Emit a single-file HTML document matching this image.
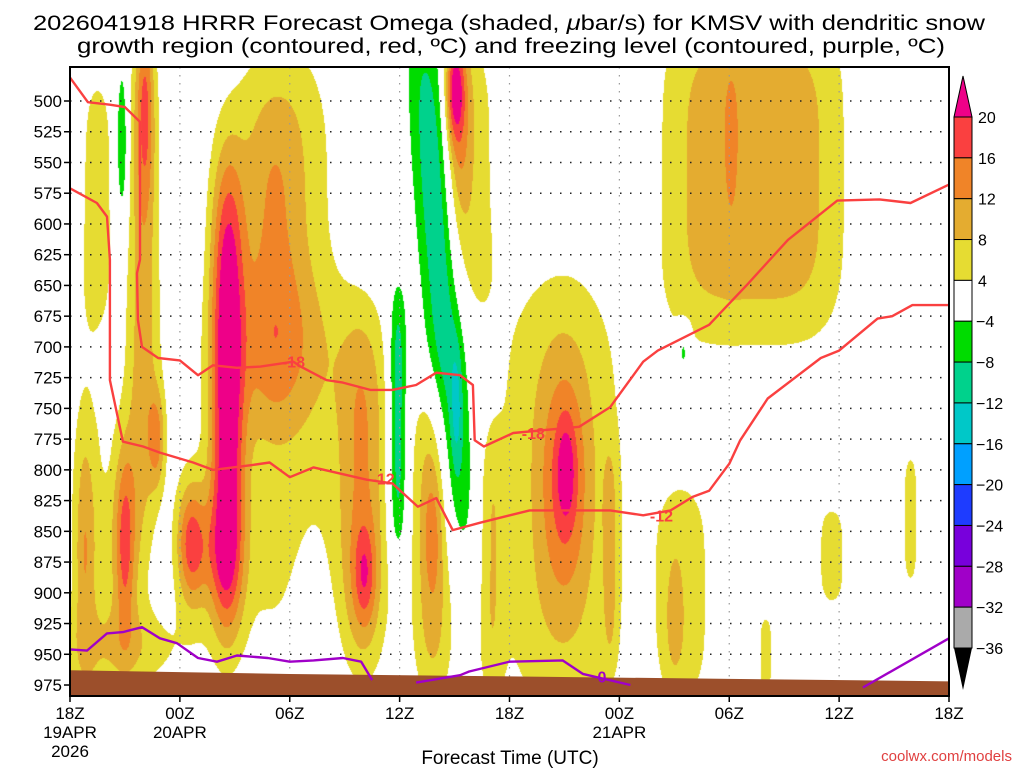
<!DOCTYPE html>
<html><head><meta charset="utf-8"><style>
html,body{margin:0;padding:0;background:#fff;width:1024px;height:768px;overflow:hidden}
#shade{position:absolute;left:70px;top:67px}
#ov{position:absolute;left:0;top:0}
text{font-family:"Liberation Sans",sans-serif}
</style></head><body>
<canvas id="shade" width="879" height="629"></canvas>
<svg id="ov" width="1024" height="768" xmlns="http://www.w3.org/2000/svg">
<g id="title" font-size="21" fill="#000" text-anchor="middle">
<text x="509" y="30" textLength="952" lengthAdjust="spacingAndGlyphs">2026041918 HRRR Forecast Omega (shaded, <tspan font-style="italic">μ</tspan>bar/s) for KMSV with dendritic snow</text>
<text x="511" y="53" textLength="868" lengthAdjust="spacingAndGlyphs">growth region (contoured, red, ºC) and freezing level (contoured, purple, ºC)</text>
</g>
<g id="grid"></g>
<g id="lines"></g>
<g id="axes"></g>
<g id="cbar"></g>
<text x="510" y="764" font-size="19" text-anchor="middle">Forecast Time (UTC)</text>
<text x="1012" y="761" font-size="15" fill="#e04040" text-anchor="end">coolwx.com/models</text>
</svg>
<script>
// ---- data ----
const pressureTicks=[500,525,550,575,600,625,650,675,700,725,750,775,800,825,850,875,900,925,950,975];
const timeTickHours=[0,6,12,18,24,30,36,42,48];
const timeTickLabels=["18Z","00Z","06Z","12Z","18Z","00Z","06Z","12Z","18Z"];
const dateLabels=[[0,"19APR","2026"],[6,"20APR"],[30,"21APR"]];
const levelBounds=[20,16,12,8,4,-4,-8,-12,-16,-20,-24,-28,-32,-36];
const levelColors=["#ee0088","#fa4040","#f08428","#e4ac30","#e6dc32","#ffffff","#00dc00","#00d28c","#00c8c8","#00a0ff","#1e3cff","#7800dc","#a000c8","#aaaaaa","#000000"];
// omega features (hour, hPa, hour-width, hPa-width, exponents, amplitude, tilt)
const blobH=[8.6,11.5,12.0,6.6,4.1,4.0,4.75,3.0,3.0,0.8,0.9,1.5,3,2.85,1.95,13.2,16.1,16.0,19.8,19.8,20.3,21.1,17.9,21.0,21.2,22.0,27.1,27.0,26.8,29.5,33.5,33.0,33.5,37.3,36.1,41.6,45.9,38.0,23.0,8.0,11.0];
const blobP=[740,600,800,860,500,640,775,860,860,870,850,580,945,535,765,940,885,820,850,860,650,750,760,490,520,560,800,810,820,870,900,920,698,560,520,870,840,950,880,870,640];
const blobSh=[0.9,2.8,4.5,0.8,0.45,0.9,0.45,0.5,1.2,0.5,1.0,1.0,3.5,0.35,0.2,1.2,0.6,1.3,0.5,1.1,1.1,0.3,0.5,0.5,0.7,1.4,0.5,1.3,3.6,0.4,1.8,0.5,0.35,5,0.45,0.9,0.5,0.45,0.7,1.2,1.5];
const blobSp=[190,150,150,50,80,200,40,70,100,90,150,110,35,70,25,90,40,150,50,130,220,50,110,40,90,120,40,90,190,90,100,50,20,140,80,45,60,35,110,50,130];
const blobHx=[2,2,2,2,2,2,2,2,2,2,2,2,2,2,2,2,2,2,2,2,2,2,2,2,2,2,2,2,2,2,2,2,2,4,2,2,2,2,2,2,2];
const blobPx=[4,4,4,2,2,4,2,2,2,2,2,4,2,2,2,2,2,4,2,4,4,2,4,2,2,4,2,2,4,4,4,2,4,4,2,4,4,4,4,2,4];
const blobAmp=[22,9,6,16,10,10,10,10,8,6,6,6,6,-10,-6,-5,9,10,5,10,-12,-6,-12,14,10,6,7,10,8,6,6,5,-7,10.5,3,6,6,6,6,6,4];
const blobTilt=[0,0,0,0,0,0,0,0,0,0,0,0,0,0,0,0,0,0,0,0,0.005,0,0,0,0,0,0,0,0,0,0,0,0,0,0,0,0,0,0,0,0];
// contours
const c18H=[0,0.98,2.18,3.0,3.82,3.82,3.66,3.71,3.93,4.81,6.0,6.99,7.81,9.12,10.4,12.2,12.6,14.0,14.9,16.4,17.6,18.9,20.0,21.3,22.0,22.1,22.6,24.2,27.8,29.5,31.3,32.1,34.9,37.0,39.2,41.9,44.2,45.9,48];
const c18P=[481,501,503,505,517,629,640,678,700,709,711,723,715,717,716,712,716,727,729,735,735,731,721,723,731,776,781,770,765,749,712,703,682,649,613,581,580,583,568];
const c12H=[0,1.47,2.02,2.18,2.18,2.89,3.99,4.91,6.72,7.81,9.99,10.9,12.0,13.3,16.2,17.6,19.0,20.0,20.9,22.4,25.1,29.5,31.3,32.8,34.0,34.9,36.0,36.6,38.1,41.0,42.0,44.1,44.9,46.0,48];
const c12P=[571,583,594,629,727,777,781,786,794,800,796,794,806,798,808,811,830,823,849,843,833,833,837,833,822,817,795,776,742,709,703,677,675,666,666];
const f0aH=[0,0.93,2.02,2.89,3.93,4.91,5.84,6.99,8.03,9.12,10.8,12.0,13.3,14.9,15.9,16.5];
const f0aP=[946,947,933,932,928,937,941,953,956,951,953,956,955,953,956,971];
const f0bH=[18.9,21.3,21.8,24.0,26.9,28.0,30.6];
const f0bP=[973,967,964,956,955,966,975];
const f0cH=[43.3,48];
const f0cP=[977,937];
const labelH=[12.2,25.3,17.1,32.3,29.05];
const labelP=[712,770,807,837,968];
const labelText=["-18","-18","-12","-12","0"];
const groundH=[0,12,24,36,48];
const groundP=[963,966,968,970,972];

// ---- scales ----
const X0=70,X1=949,Y0=67,Y1=696;
function X(h){return X0+h*(X1-X0)/48;}
function Y(p){return 101+(p-500)*1.2295;}
function P(y){return 500+(y-101)/1.2295;}
function H(x){return (x-X0)*48/(X1-X0);}
const NS="http://www.w3.org/2000/svg";
function el(tag,attrs,parent){const e=document.createElementNS(NS,tag);for(const k in attrs)e.setAttribute(k,attrs[k]);parent.appendChild(e);return e;}

// ---- shading ----
const cv=document.getElementById('shade'),ctx=cv.getContext('2d');
const W=cv.width,Hh=cv.height,img=ctx.createImageData(W,Hh);
const rgb=levelColors.map(c=>[parseInt(c.substr(1,2),16),parseInt(c.substr(3,2),16),parseInt(c.substr(5,2),16)]);
for(let j=0;j<Hh;j++){const p=P(Y0+j+0.5);
 for(let i=0;i<W;i++){const h=H(X0+i+0.5);let v=0;
  for(let b=0;b<blobH.length;b++){
   const dp=Math.abs(p-blobP[b])/blobSp[b]; if(dp>3)continue;
   const dh=Math.abs(h-blobH[b]-blobTilt[b]*(p-blobP[b]))/blobSh[b]; if(dh>4)continue;
   v+=blobAmp[b]*Math.exp(-Math.pow(dh,blobHx[b])-Math.pow(dp,blobPx[b]));}
  let k=levelBounds.length;for(let q=0;q<levelBounds.length;q++){if(v>=levelBounds[q]){k=q;break;}}
  const c=rgb[k],o=(j*W+i)*4;img.data[o]=c[0];img.data[o+1]=c[1];img.data[o+2]=c[2];img.data[o+3]=255;}}
ctx.putImageData(img,0,0);

const ov=document.getElementById('ov');
// ground
const gl=document.getElementById('lines');
let gd='M'+X(groundH[0])+','+Y(groundP[0]);
for(let i=1;i<groundH.length;i++)gd+=' L'+X(groundH[i])+','+Y(groundP[i]);
gd+=' L'+X1+','+Y1+' L'+X0+','+Y1+' Z';
const g=el('path',{d:gd,fill:'#9c4f2b'},gl);



// grid
const grid=document.getElementById('grid');
pressureTicks.forEach(p=>{const l=el('line',{x1:X0,x2:X1,y1:Y(p),y2:Y(p),stroke:'#222','stroke-width':1.5,'stroke-dasharray':'1.5,8.5'},grid);
 
 });
timeTickHours.slice(1,-1).forEach(h=>{const l=el('line',{x1:X(h),x2:X(h),y1:Y0,y2:Y1,stroke:'#999','stroke-width':1.2,'stroke-dasharray':'1.5,6.5'},grid);
 
 });

// contours
function poly(hs,ps,color,name){let d='';for(let i=0;i<hs.length;i++)d+=(i?' L':'M')+X(hs[i]).toFixed(1)+','+Y(ps[i]).toFixed(1);
 const e=el('path',{d:d,fill:'none',stroke:color,'stroke-width':2.4,'stroke-linejoin':'round'},gl);
 
 }
poly(c18H,c18P,'#fa4040','contour-minus18');
poly(c12H,c12P,'#fa4040','contour-minus12');
poly(f0aH,f0aP,'#a000c8','freezing-level');
poly(f0bH,f0bP,'#a000c8','freezing-level');
poly(f0cH,f0cP,'#a000c8','freezing-level');
labelText.forEach((t,i)=>{const e=el('text',{x:X(labelH[i]),y:Y(labelP[i])+6,'font-size':16,'font-weight':'bold','text-anchor':'middle',fill:t==='0'?'#a000c8':'#fa4040'},gl);e.textContent=t;
 
 });

// axes
const ax=document.getElementById('axes');
el('rect',{x:X0,y:Y0,width:X1-X0,height:Y1-Y0,fill:'none',stroke:'#000','stroke-width':2},ax);
pressureTicks.forEach(p=>{el('line',{x1:X0-6,x2:X0,y1:Y(p),y2:Y(p),stroke:'#000','stroke-width':1.5},ax);
 const t=el('text',{x:X0-8,y:Y(p)+6,'font-size':17,'text-anchor':'end'},ax);t.textContent=p;
 
 });
timeTickHours.forEach((h,i)=>{el('line',{x1:X(h),x2:X(h),y1:Y1,y2:Y1+6,stroke:'#000','stroke-width':1.5},ax);
 const t=el('text',{x:X(h),y:719,'font-size':17,'text-anchor':'middle'},ax);t.textContent=timeTickLabels[i];
 
 });
dateLabels.forEach(d=>{for(let k=1;k<d.length;k++){const t=el('text',{x:X(d[0]),y:719+19*k,'font-size':17,'text-anchor':'middle'},ax);t.textContent=d[k];
 
 }});

// colorbar
const cb=document.getElementById('cbar');
const cbX=954,cbW=18,cbTop=117,cbBot=648,nb=levelBounds.length-1,bh=(cbBot-cbTop)/nb;
el('polygon',{points:`${cbX},${cbTop} ${cbX+cbW},${cbTop} ${cbX+cbW/2},${cbTop-41}`,fill:levelColors[0],stroke:'#000','stroke-width':1},cb);
for(let i=0;i<nb;i++){const r=el('rect',{x:cbX,y:cbTop+i*bh,width:cbW,height:bh,fill:levelColors[i+1],stroke:'#000','stroke-width':1},cb);
 
 }
el('polygon',{points:`${cbX},${cbBot} ${cbX+cbW},${cbBot} ${cbX+cbW/2},${cbBot+42}`,fill:'#000'},cb);
levelBounds.forEach((v,i)=>{const t=el('text',{x:cbX+cbW+(v<0?4:6),y:cbTop+i*bh+6,'font-size':16},cb);t.textContent=v<0?'\u2212'+(-v):v;
 
 });
</script>
</body></html>
